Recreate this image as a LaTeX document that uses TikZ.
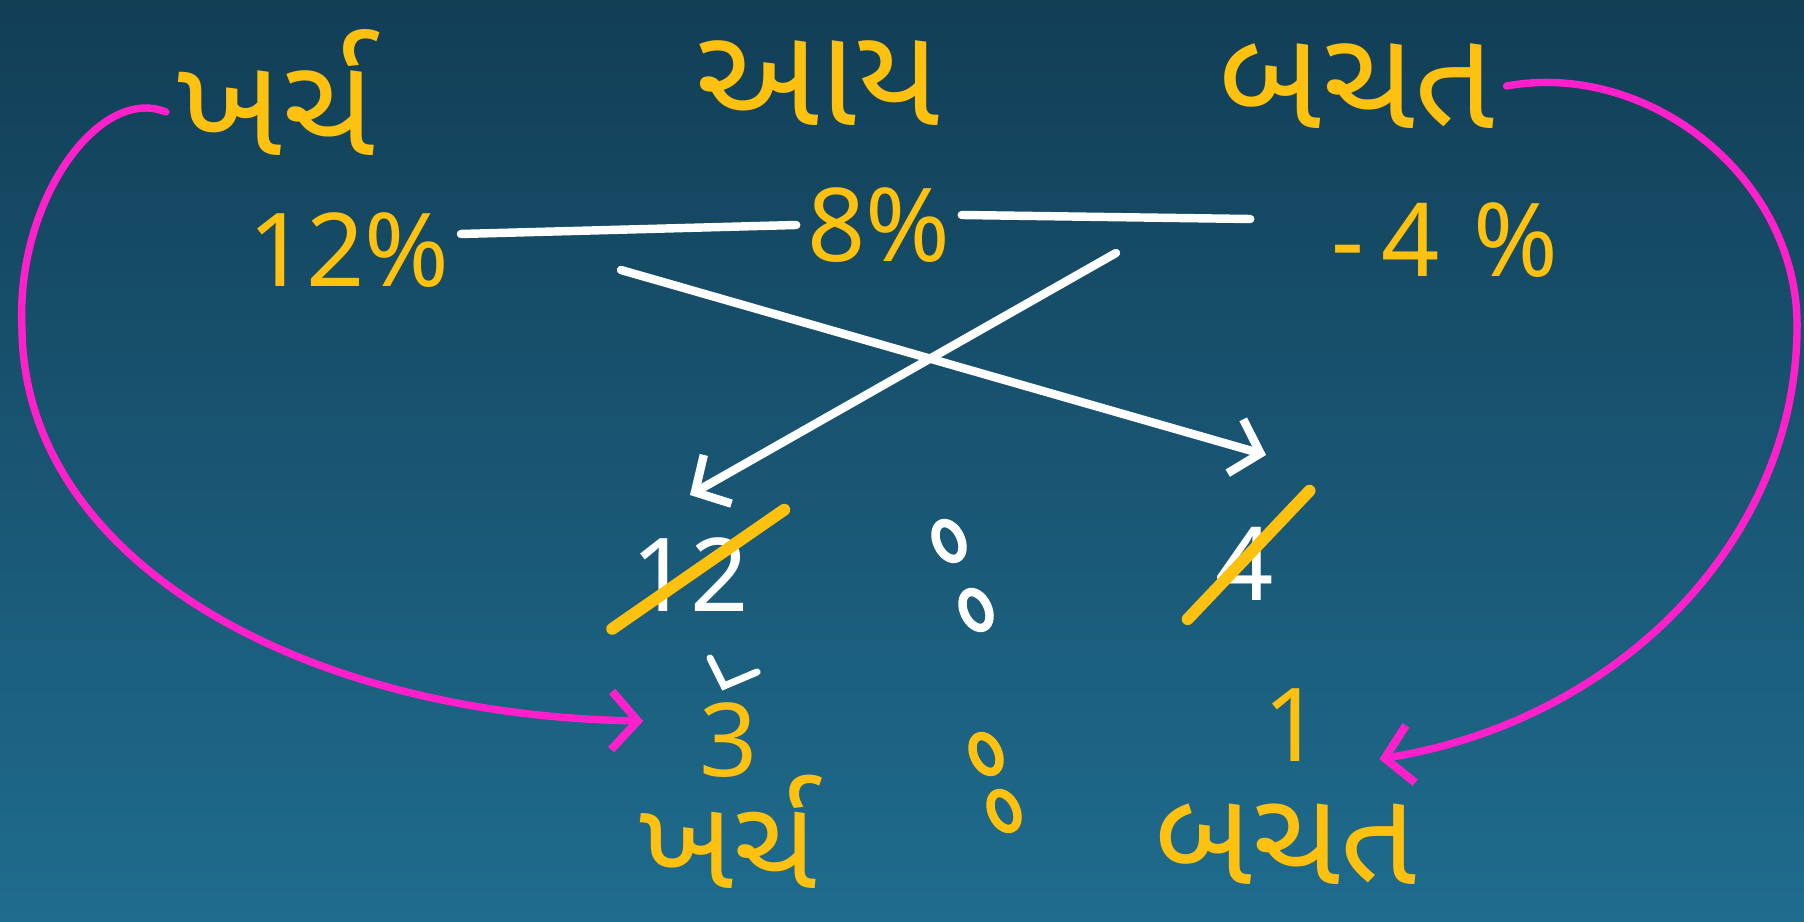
\documentclass[tikz,border=0pt]{standalone}
\usepackage{fontspec}
\newfontfamily\gujfont[Script=Gujarati]{Noto Sans Gujarati UI}
\newfontfamily\numfont{Noto Sans}
\usepackage{tikz}
\usetikzlibrary{arrows.meta, positioning, shapes.geometric}
\usepackage{xcolor}

\definecolor{penyellow}{RGB}{255,193,15}
\definecolor{penmagenta}{RGB}{255,32,204}
\definecolor{boardtop}{RGB}{18,62,86}
\definecolor{boardbottom}{RGB}{31,108,142}

\begin{document}
\begin{tikzpicture}[
    x=0.01cm, y=-0.01cm,
    word/.style={text=penyellow, inner sep=3pt, font=\gujfont\fontsize{40}{44}\selectfont},
    value/.style={text=penyellow, inner sep=3pt, font=\numfont\fontsize{29}{32}\selectfont},
    ratio/.style={value, text=white},
    chalk/.style={draw=white, line width=2.4pt, line cap=round},
    chalkarrow/.style={chalk, -{Straight Barb[length=2.6mm, width=5.6mm, line width=2.4pt]}},
    strike/.style={draw=penyellow, line width=3.4pt, line cap=round},
    swing/.style={draw=penmagenta, line width=2.1pt, line cap=round, -{Straight Barb[length=2.6mm, width=5.8mm, line width=2.3pt]}},
    ring/.style={line width=2.4pt}
]
\useasboundingbox (0,0) rectangle (1804,922);
\shade[top color=boardtop, bottom color=boardbottom] (0,0) rectangle (1804,922);

% Top Row
\node (kTop) [word] at (276,92) {ખર્ચ};
\node (aTop) [word] at (818,83) {આય};
\node (bTop) [word] at (1357,86) {બચત};

\node (p12) [value] at (349,250) {12\%};
\node (p8) [value] at (879,225) {8\%};
\node (pm4) [value] at (1445,240) {-\,4\,\,\%};

\draw [chalk] ([yshift=1.6mm]p12.east) -- (p8.west);
\draw [chalk, shorten >=7mm] ([yshift=1mm]p8.east) -- ([yshift=2mm]pm4.west);

% Cross
\coordinate (fromExp) at (621,270);
\coordinate (toSave) at (1266,455);
\coordinate (fromSave) at (1116,253);
\coordinate (toExp) at (690,495);
\draw [chalkarrow] (fromExp) -- (toSave);
\draw [chalkarrow] (fromSave) -- (toExp);

% Ratio Row
\node (r12) [ratio] at (690,575) {12};
\node (r4) [ratio] at (1245,564) {4};
\draw [ring, white, rotate around={25:(949,541)}] (949,541) ellipse [x radius=12, y radius=19];
\draw [ring, white, rotate around={25:(976,610)}] (976,610) ellipse [x radius=12, y radius=19];
\draw [strike, shorten <=-1mm, shorten >=-3mm] (r12.south west) -- (r12.north east);
\draw [strike, shorten <=-1mm, shorten >=-3.5mm] ([xshift=-1mm]r4.south west) -- (r4.north east);
\draw [chalk, line width=2pt] (710,658) -- (724,686) -- (757,672);

\node (rThree) [value, inner sep=0pt] at (729,740) {3};
\node (rOne) [value] at (1293,725) {1};
\draw [ring, penyellow, rotate around={25:(986,754)}] (986,754) ellipse [x radius=12, y radius=19];
\draw [ring, penyellow, rotate around={25:(1004,811)}] (1004,811) ellipse [x radius=12, y radius=19];

\node (kBot) [word, inner sep=0pt, anchor=base, font=\gujfont\fontsize{36}{40}\selectfont] at (728,888) {ખર્ચ};
\node (bBot) [word, inner sep=0pt, anchor=base, font=\gujfont\fontsize{38}{42}\selectfont] at (1286,884) {બચત};

% Swings
\draw [swing, shorten >=5.6mm] ([yshift=-2mm]kTop.west) .. controls (100,85) and (15,200) .. (22,330)
    .. controls (25,560) and (300,715) .. ([yshift=1.8mm]rThree.west);
\draw [swing] (bTop.east) .. controls (1650,60) and (1800,180) .. (1797,330)
    .. controls (1795,540) and (1620,720) .. ([xshift=4.6mm, yshift=-3.4mm]rOne.east);

\end{tikzpicture}
\end{document}
